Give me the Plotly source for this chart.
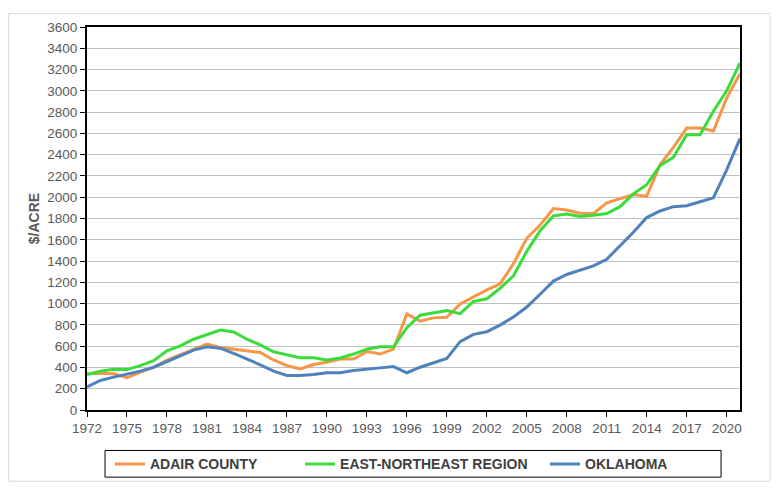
import plotly.graph_objects as go

years = list(range(1972, 2022))
adair = [340, 346, 340, 303, 356, 402, 470, 520, 563, 619, 588, 572, 557, 541, 470, 417, 387, 427, 448, 479,
         479, 550, 526, 572, 903, 835, 866, 872, 996, 1061, 1129, 1185, 1376, 1614, 1738, 1893, 1880, 1849, 1846, 1948,
         1985, 2025, 2010, 2304, 2468, 2650, 2650, 2623, 2932, 3161]
east_ne = [334, 365, 383, 380, 417, 464, 557, 603, 665, 711, 751, 733, 665, 612, 547, 520, 492, 492, 470, 489,
           526, 572, 594, 594, 773, 891, 912, 934, 906, 1020, 1045, 1144, 1262, 1491, 1686, 1825, 1843, 1818, 1831, 1846,
           1911, 2032, 2118, 2298, 2375, 2588, 2588, 2808, 3000, 3262]
oklahoma = [216, 278, 309, 334, 365, 402, 455, 510, 563, 594, 581, 532, 479, 425, 365, 325, 325, 334, 350, 350,
            371, 387, 396, 408, 350, 402, 442, 485, 643, 711, 736, 798, 875, 968, 1088, 1212, 1274, 1314, 1354, 1417,
            1540, 1670, 1809, 1871, 1911, 1920, 1957, 1994, 2257, 2551]
x_ticks = list(range(1972, 2021, 3))
y_ticks = list(range(0, 3601, 200))

names = ["ADAIR COUNTY", "EAST-NORTHEAST REGION", "OKLAHOMA"]
colors = ["#F79646", "#3ADB3A", "#4F81BD"]
values = [adair, east_ne, oklahoma]
legend_ids = ["legend", "legend2", "legend3"]
legend_x = [0.0352, 0.3263, 0.7014]

fig = go.Figure()
for name, vals, col, lid in zip(names, values, colors, legend_ids):
    fig.add_trace(go.Scatter(x=years, y=vals, name="<b>" + name + "</b>", mode="lines",
                             line=dict(color=col, width=3), legend=lid))

fam = "Liberation Sans, Arial, sans-serif"
tickfont = dict(family=fam, size=13.5, color="#595959")
legfont = dict(family=fam, size=14, color="#404040")

layout_legends = {}
for lid, lx in zip(legend_ids, legend_x):
    layout_legends[lid] = dict(x=lx, xanchor="left", y=-0.1418, yanchor="middle",
                               orientation="h", bgcolor="rgba(0,0,0,0)", borderwidth=0,
                               font=legfont, itemwidth=30)

fig.update_layout(
    width=779, height=491,
    margin=dict(l=79, r=47, t=14, b=89),
    paper_bgcolor="white", plot_bgcolor="white",
    xaxis=dict(range=[1972, 2021], tickvals=x_ticks, ticks="outside", ticklen=5, tickcolor="black",
               showline=True, linecolor="black", linewidth=2, mirror=True, showgrid=False,
               tickfont=tickfont, zeroline=False),
    yaxis=dict(range=[0, 3600], tickvals=y_ticks, ticks="outside", ticklen=5, tickcolor="black",
               showline=True, linecolor="black", linewidth=2, mirror=True,
               showgrid=True, gridcolor="#BFBFBF", gridwidth=1, tickfont=tickfont, zeroline=False,
               title=dict(text="<b>$/ACRE</b>", font=dict(family=fam, size=14, color="#595959"),
                          standoff=4)),
    showlegend=True,
    **layout_legends,
)

# legend frame
fig.add_shape(type="rect", xref="paper", yref="paper", x0=0.0276, x1=0.971, y0=-0.1753, y1=-0.1057,
              line=dict(color="black", width=1), fillcolor="rgba(0,0,0,0)")
# outer chart frame
fig.add_shape(type="rect", xref="paper", yref="paper", x0=-0.120, x1=1.046, y0=-0.186, y1=1.035,
              line=dict(color="#D9D9D9", width=1), layer="below")

fig.write_html("out.html")
